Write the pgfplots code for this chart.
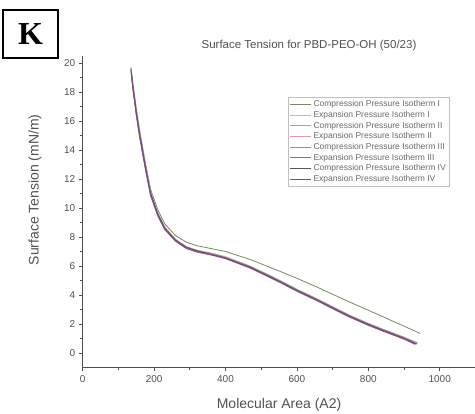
\documentclass[border=0pt]{standalone}
\usepackage{pgfplots}
\pgfplotsset{compat=1.18}
\usepackage{fontspec}
\setmainfont{Liberation Sans}
\newfontfamily\serifK{Liberation Serif}
\definecolor{cA}{RGB}{120,135,100}
\definecolor{cB}{RGB}{195,195,120}
\definecolor{cC}{RGB}{170,150,225}
\definecolor{cD}{RGB}{225,150,175}
\definecolor{cE}{RGB}{130,155,130}
\definecolor{cF}{RGB}{175,90,130}
\definecolor{cG}{RGB}{85,85,95}
\definecolor{cH}{RGB}{120,70,150}
\definecolor{axgray}{RGB}{80,80,80}
\begin{document}
\begin{tikzpicture}
\path[use as bounding box] (-82.7pt,-46.5pt) rectangle (392.3pt,367.5pt);
\begin{axis}[
  scale only axis,
  width=392.7pt, height=311.75pt,
  xmin=0, xmax=1100, ymin=-1, ymax=20.5,
  axis x line=bottom, axis y line=left,
  axis line style={-, axgray, line width=0.8pt},
  xtick={0,200,...,1000}, ytick={0,2,...,20},
  minor x tick num=1, minor y tick num=1,
  tick align=outside,
  major tick length=4pt, minor tick length=2.5pt,
  tick style={axgray, line width=0.7pt},
  /pgf/number format/assume math mode=true,
  /pgf/number format/1000 sep={},
  ticklabel style={font=\fontsize{10}{12}\selectfont, text=axgray},
  xlabel={Molecular Area (A2)},
  ylabel={Surface Tension (mN/m)},
  xlabel style={at={(axis description cs:0.5,-0.12)}, anchor=center, font=\fontsize{14}{16}\selectfont, text=axgray},
  ylabel style={at={(axis description cs:-0.1215,0.57)}, anchor=center, rotate=0, font=\fontsize{14}{16}\selectfont, text=axgray},
  legend style={at={(rel axis cs:0.523,0.868)}, anchor=north west, draw=gray!50, line width=0.5pt,
    font=\fontsize{8.5}{10}\selectfont, text=axgray!85, inner sep=1.5pt, row sep=-1pt,
    legend cell align=left},
  legend image code/.code={\draw[#1, line width=0.7pt] (0pt,0pt) -- (21pt,0pt);},
  every axis plot/.append style={line width=0.8pt, no markers},
]
\addplot[cA] coordinates {(135,19.7)(140,18.7)(150,16.9)(160,15.3)(175,13.2)(190,11.3)(210,9.9)(230,8.9)(260,8.1)(290,7.65)(320,7.4)(360,7.2)(400,7.0)(469,6.45)(520,5.95)(561,5.55)(600,5.15)(656,4.55)(700,4.05)(749,3.5)(800,2.95)(841,2.5)(900,1.85)(945,1.35)};
\addlegendentry{Compression Pressure Isotherm I}
\addplot[cB] coordinates {(137,19.3)(140,18.6)(150,16.7)(160,15.1)(175,13.0)(190,11.1)(210,9.7)(230,8.7)(260,7.85)(290,7.35)(320,7.1)(360,6.9)(400,6.65)(469,6.0)(520,5.4)(561,4.9)(600,4.4)(656,3.75)(700,3.2)(749,2.6)(800,2.05)(841,1.65)(900,1.1)(930,0.75)};
\addlegendentry{Expansion Pressure Isotherm I}
\addplot[cC] coordinates {(135,19.6)(140,18.5)(150,16.6)(160,15.0)(175,12.9)(190,11.0)(210,9.6)(230,8.6)(260,7.8)(290,7.3)(320,7.05)(360,6.85)(400,6.6)(469,5.95)(520,5.35)(561,4.85)(600,4.35)(656,3.7)(700,3.15)(749,2.55)(800,2.0)(841,1.6)(900,1.05)(935,0.65)};
\addlegendentry{Compression Pressure Isotherm II}
\addplot[cD] coordinates {(136,19.4)(140,18.4)(150,16.5)(160,14.9)(175,12.8)(190,10.9)(210,9.5)(230,8.55)(260,7.75)(290,7.25)(320,7.0)(360,6.8)(400,6.55)(469,5.9)(520,5.3)(561,4.8)(600,4.3)(656,3.65)(700,3.1)(749,2.5)(800,1.95)(841,1.55)(900,1.0)(932,0.6)};
\addlegendentry{Expansion Pressure Isotherm II}
\addplot[cE] coordinates {(135,19.5)(140,18.5)(150,16.6)(160,15.0)(175,12.9)(190,11.05)(210,9.65)(230,8.65)(260,7.8)(290,7.3)(320,7.05)(360,6.85)(400,6.6)(469,5.97)(520,5.38)(561,4.88)(600,4.38)(656,3.72)(700,3.17)(749,2.57)(800,2.02)(841,1.62)(900,1.07)(938,0.7)};
\addlegendentry{Compression Pressure Isotherm III}
\addplot[cF] coordinates {(136,19.3)(140,18.3)(150,16.4)(160,14.8)(175,12.75)(190,10.85)(210,9.45)(230,8.5)(260,7.7)(290,7.2)(320,6.95)(360,6.75)(400,6.5)(469,5.85)(520,5.25)(561,4.75)(600,4.25)(656,3.6)(700,3.05)(749,2.45)(800,1.9)(841,1.5)(900,0.95)(930,0.6)};
\addlegendentry{Expansion Pressure Isotherm III}
\addplot[cG] coordinates {(135,19.6)(140,18.55)(150,16.65)(160,15.05)(175,12.95)(190,11.05)(210,9.6)(230,8.6)(260,7.8)(290,7.3)(320,7.05)(360,6.8)(400,6.55)(469,5.9)(520,5.3)(561,4.8)(600,4.3)(656,3.65)(700,3.1)(749,2.5)(800,1.95)(841,1.55)(900,1.0)(934,0.62)};
\addlegendentry{Compression Pressure Isotherm IV}
\addplot[cH] coordinates {(136,19.4)(140,18.4)(150,16.5)(160,14.9)(175,12.85)(190,10.95)(210,9.55)(230,8.55)(260,7.75)(290,7.25)(320,7.0)(360,6.8)(400,6.55)(469,5.92)(520,5.32)(561,4.82)(600,4.32)(656,3.67)(700,3.12)(749,2.52)(800,1.97)(841,1.57)(900,1.02)(936,0.62)};
\addlegendentry{Expansion Pressure Isotherm IV}
\end{axis}
\node[text=axgray, font=\fontsize{11.5}{13}\selectfont] at (226.3pt,322pt) {Surface Tension for PBD-PEO-OH (50/23)};
\node[draw=black, line width=1.3pt, minimum width=55pt, minimum height=48pt, inner sep=0pt,
  font=\serifK\bfseries\fontsize{32}{34}\selectfont] at (-52.2pt,333.5pt) {K};
\end{tikzpicture}
\end{document}
